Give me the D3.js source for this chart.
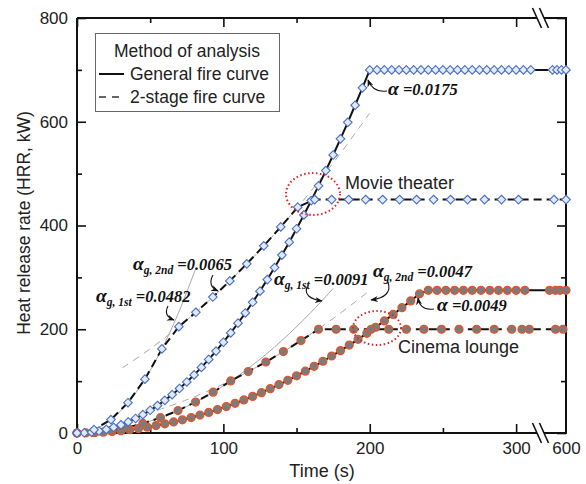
<!DOCTYPE html>
<html>
<head>
<meta charset="utf-8">
<script src="https://cdn.jsdelivr.net/npm/d3@7"></script>
<style>
  html, body { margin: 0; padding: 0; background: #fff; }
  svg { display: block; }
  .tick text { font-family: "Liberation Sans", Arial, sans-serif; font-size: 17px; fill: #222; }
  .tick line { stroke: #111; stroke-width: 1.6; }
</style>
</head>
<body>
<svg id="chart" width="586" height="484"></svg>
<script>
// Heat release rate of fires in a movie theater and a cinema lounge:
// general t-squared fire curve vs. 2-stage fire curve.

// Movie theater, general fire curve (alpha = 0.0175)
const movieGenT = [0,5,10,15,20,25,30,35,40,45,50,55,60,65,70,75,80,85,90,95,100,
  105,110,115,120,125,130,135,140,145,150,155,160,165,170,175,180,185,190,195,200,
  205,210,215,220,225,230,235,240,245,250,255,260,265,270,275,280,285,290,295,300,305,310,
  591,594,597,600];
const movieGenQ = [0,0.4,1.8,3.9,7,10.9,15.8,21.4,28,35.4,43.8,52.9,63,73.9,85.8,98.4,112,126.4,141.8,157.9,175,
  192.9,211.8,231.4,252,273.4,295.8,318.9,343,367.9,393.8,420.4,448,476.4,505.8,535.9,567,598.9,631.8,665.4,700,
  700,700,700,700,700,700,700,700,700,700,700,700,700,700,700,700,700,700,700,700,700,700,
  700,700,700,700];

// Movie theater, 2-stage fire curve
const movie2T = [0,11.6,23.2,34.8,46.4,58,69.6,81.2,92.8,104.4,116,127.6,139.2,150.8,
  162.4,174,185.6,197.2,208.8,220.4,232,243.6,255.2,266.8,278.4,290,301.6,592,600];
const movie2Q = [0,6.5,25.9,58.4,103.8,162.1,205,232.7,262.1,293.2,326.1,360.8,397.2,435.4,
  450,450,450,450,450,450,450,450,450,450,450,450,450,450,450];

// Cinema lounge, general fire curve (alpha = 0.0049)
const cinemaGenT = [0,6,12,18,24,30,36,42,48,54,60,66,72,78,84,90,96,102,108,114,120,
  126,132,138,144,150,156,162,168,174,180,186,192,198,204,210,216,222,228,234,
  240,246,252,258,264,270,276,282,288,294,300,306,589,593,596,600];
const cinemaGenQ = [0,0.2,0.7,1.6,2.8,4.4,6.4,8.6,11.3,14.3,17.6,21.3,25.4,29.8,34.6,39.7,45.2,51,57.2,63.7,70.6,
  77.8,85.4,93.3,101.6,110.3,119.2,128.6,138.3,148.4,158.8,169.5,180.6,192.1,203.9,216.1,228.6,241.5,254.7,268.3,
  275,275,275,275,275,275,275,275,275,275,275,275,275,275,275,275];

// Cinema lounge, 2-stage fire curve
const cinema2T = [0,11,23,34,45,57,69,81,93,105,117,129,141,153,
  165,177,189,201,213,225,237,249,261,273,285,297,304,309,593,598];
const cinema2Q = [0,1.1,4.8,10.5,18.4,29.6,43.3,59.7,78.7,100.3,118.4,136.9,156.9,178.2,
  200,200,200,200,200,200,200,200,200,200,200,200,200,200,200,200];

// Thin grey extensions of each growth stage
const movie1stT = [0,10,20,30,40,50,60,70,81];
const movie1stQ = [0,4.8,19.3,43.4,77.1,120.5,173.5,236.2,316.2];
const movie2ndT = [31,45,60,75,90,105,120,135,150,165,180,200];
const movie2ndQ = [125.6,152.2,183.5,217.7,254.8,294.9,337.9,383.8,432.7,484.4,539.1,616.6];
const cinema1stT = [0,20,40,60,80,100,120,140,160,175];
const cinema1stQ = [0,3.6,14.6,32.8,58.2,91,131,178.4,233,278.7];
const cinema2ndT = [55,75,95,115,135,155,175,200];
const cinema2ndQ = [43.9,64,87.8,115.4,146.7,181.8,220.7,274.6];

// Axis ticks
const xMajorTicks = [0,100,200,300];
const xMinorTicks = [50,150,250];
const xEndTick = 600;
const yMajorTicks = [0,200,400,600,800];
const yMinorTicks = [100,300,500,700];

const svg = d3.select("#chart");

// Broken time axis: 0–317 s, gap, then 588–600 s
const x = d3.scaleLinear().domain([0,317,588,600]).range([77,541,548,566]);
const y = d3.scaleLinear().domain([0,800]).range([433,18]);

const x0 = x(0), x1 = x(600), y0 = y(0), y1 = y(800);
const breakX = 540.5;

const zip = (t, q) => t.map((d, i) => [d, q[i]]);
const line = d3.line().x(d => x(d[0])).y(d => y(d[1]));
const smooth = d3.line().x(d => x(d[0])).y(d => y(d[1])).curve(d3.curveCatmullRom);

// ---- axes (ticks only, frame drawn separately) ----
function styleAxis(g) { g.select(".domain").remove(); }

svg.append("g").attr("transform", `translate(0,${y0})`)
  .call(d3.axisBottom(x).tickValues(xMajorTicks.concat([xEndTick])).tickSizeInner(-9).tickSizeOuter(0).tickPadding(9).tickFormat(d3.format("d")))
  .call(styleAxis)
  .call(g => g.selectAll(".tick").filter(d => d === xEndTick).select("line").remove());
svg.append("g").attr("transform", `translate(0,${y0})`)
  .call(d3.axisBottom(x).tickValues(xMinorTicks).tickSizeInner(-5).tickSizeOuter(0).tickFormat(""))
  .call(styleAxis);
svg.append("g").attr("transform", `translate(0,${y1})`)
  .call(d3.axisTop(x).tickValues(xMajorTicks).tickSizeInner(-9).tickSizeOuter(0).tickFormat(""))
  .call(styleAxis);
svg.append("g").attr("transform", `translate(0,${y1})`)
  .call(d3.axisTop(x).tickValues(xMinorTicks).tickSizeInner(-5).tickSizeOuter(0).tickFormat(""))
  .call(styleAxis);

svg.append("g").attr("transform", `translate(${x0},0)`)
  .call(d3.axisLeft(y).tickValues(yMajorTicks).tickSizeInner(-9).tickSizeOuter(0).tickPadding(9).tickFormat(d3.format("d")))
  .call(styleAxis);
svg.append("g").attr("transform", `translate(${x0},0)`)
  .call(d3.axisLeft(y).tickValues(yMinorTicks).tickSizeInner(-5).tickSizeOuter(0).tickFormat(""))
  .call(styleAxis);
svg.append("g").attr("transform", `translate(${x1},0)`)
  .call(d3.axisRight(y).tickValues(yMajorTicks).tickSizeInner(-9).tickSizeOuter(0).tickFormat(""))
  .call(styleAxis);
svg.append("g").attr("transform", `translate(${x1},0)`)
  .call(d3.axisRight(y).tickValues(yMinorTicks).tickSizeInner(-5).tickSizeOuter(0).tickFormat(""))
  .call(styleAxis);

// ---- frame ----
const frame = svg.append("g").attr("stroke", "#111").attr("stroke-width", 2).attr("fill", "none");
frame.append("path").attr("d", `M${x0},${y1}V${y0}H${x1}V${y1}H${x0}`);

// axis break marks on top and bottom
[y0, y1].forEach(yy => {
  const dx = 4.5, h = 10, gap = 7;
  svg.append("path")
    .attr("d", `M${breakX - gap/2 - dx},${yy - h}L${breakX - gap/2 + dx},${yy + h}L${breakX + gap/2 + dx},${yy + h}L${breakX + gap/2 - dx},${yy - h}Z`)
    .attr("fill", "#fff");
  [-gap/2, gap/2].forEach(o => {
    svg.append("line")
      .attr("x1", breakX + o - dx).attr("y1", yy - h)
      .attr("x2", breakX + o + dx).attr("y2", yy + h)
      .attr("stroke", "#111").attr("stroke-width", 1.6);
  });
});

// ---- axis titles ----
const sans = "'Liberation Sans', Arial, sans-serif";
svg.append("text").attr("x", 322).attr("y", 477)
  .attr("text-anchor", "middle")
  .style("font-family", sans).style("font-size", "18px").attr("fill", "#222")
  .text("Time (s)");
svg.append("text").attr("transform", "translate(30,223) rotate(-90)")
  .attr("text-anchor", "middle")
  .style("font-family", sans).style("font-size", "17.5px").attr("fill", "#222")
  .text("Heat release rate (HRR, kW)");

// ---- grey stage extensions ----
const grey = svg.append("g").attr("fill", "none").attr("stroke", "#a8a8a8").attr("stroke-width", 1);
grey.append("path").attr("d", smooth(zip(movie1stT, movie1stQ)));
grey.append("path").attr("d", smooth(zip(cinema1stT, cinema1stQ)));
grey.append("path").attr("d", smooth(zip(movie2ndT, movie2ndQ))).attr("stroke-dasharray", "7,6");
grey.append("path").attr("d", smooth(zip(cinema2ndT, cinema2ndQ))).attr("stroke-dasharray", "7,6");

// ---- fire curves ----
const curves = svg.append("g").attr("fill", "none").attr("stroke", "#111").attr("stroke-width", 2);
curves.append("path").attr("d", line(zip(movieGenT, movieGenQ)));
curves.append("path").attr("d", line(zip(cinemaGenT, cinemaGenQ)));
curves.append("path").attr("d", line(zip(movie2T, movie2Q))).attr("stroke-dasharray", "8,5");
curves.append("path").attr("d", line(zip(cinema2T, cinema2Q))).attr("stroke-dasharray", "8,5");

// ---- markers ----
const diamond = "M0,-4.3L4.3,0L0,4.3L-4.3,0Z";
function diamonds(t, q) {
  svg.append("g").selectAll("path").data(zip(t, q)).join("path")
    .attr("d", diamond)
    .attr("transform", d => `translate(${x(d[0])},${y(d[1])})`)
    .attr("fill", "#e2eaf7").attr("stroke", "#4a70c0").attr("stroke-width", 1.1);
}
function circles(t, q) {
  svg.append("g").selectAll("circle").data(zip(t, q)).join("circle")
    .attr("cx", d => x(d[0])).attr("cy", d => y(d[1])).attr("r", 3.9)
    .attr("fill", "#7b7b7b").attr("stroke", "#e2552c").attr("stroke-width", 1.4);
}
circles(cinemaGenT, cinemaGenQ);
circles(cinema2T, cinema2Q);
diamonds(movieGenT, movieGenQ);
diamonds(movie2T, movie2Q);

// ---- dotted highlight ellipses ----
svg.append("ellipse").attr("cx", 313).attr("cy", 194).attr("rx", 27).attr("ry", 21)
  .attr("fill", "none").attr("stroke", "#d8262a").attr("stroke-width", 2).attr("stroke-dasharray", "1.5,2.5");
svg.append("ellipse").attr("cx", 377).attr("cy", 328).attr("rx", 24).attr("ry", 17)
  .attr("fill", "none").attr("stroke", "#d8262a").attr("stroke-width", 2).attr("stroke-dasharray", "1.5,2.5");

// ---- case labels ----
svg.append("text").attr("x", 345).attr("y", 189).style("font-family", sans).style("font-size", "18px").attr("fill", "#222").text("Movie theater");
svg.append("text").attr("x", 398).attr("y", 353).style("font-family", sans).style("font-size", "18px").attr("fill", "#222").text("Cinema lounge");

// ---- growth-coefficient annotations ----
svg.append("defs").append("marker")
  .attr("id", "arrowhead").attr("viewBox", "0 0 10 10").attr("refX", 9).attr("refY", 5)
  .attr("markerWidth", 7).attr("markerHeight", 7).attr("orient", "auto")
  .append("path").attr("d", "M0,1L10,5L0,9L3,5Z").attr("fill", "#111");

const serif = "'Liberation Serif', 'Times New Roman', serif";
function annotation(px, py, sub, value) {
  const t = svg.append("text").attr("x", px).attr("y", py)
    .style("font-family", serif).style("font-style", "italic").style("font-weight", "bold")
    .style("font-size", "16.5px").attr("fill", "#111");
  t.append("tspan").style("font-size", "19.5px").text("α");
  if (sub) {
    t.append("tspan").style("font-size", "11.5px").attr("dy", 4).text(sub);
    t.append("tspan").attr("dy", -4).text(" =" + value);
  } else {
    t.append("tspan").text(" =" + value);
  }
}
annotation(388, 95, null, "0.0175");
annotation(133, 270, "g, 2nd", "0.0065");
annotation(96, 302, "g, 1st", "0.0482");
annotation(274, 285, "g, 1st", "0.0091");
annotation(373, 277, "g, 2nd", "0.0047");
annotation(437, 311, null, "0.0049");

const arrows = [
  "M387,91 Q373,93 368,80",
  "M213,275 Q207,286 218,291",
  "M168,306 Q163,316 174,320",
  "M307,287 Q303,298 322,301",
  "M388,282 Q393,297 371,300",
  "M434,309 Q420,311 418,298"
];
svg.append("g").selectAll("path").data(arrows).join("path")
  .attr("d", d => d).attr("fill", "none").attr("stroke", "#111").attr("stroke-width", 1.1)
  .attr("marker-end", "url(#arrowhead)");

// ---- legend ----
const lg = svg.append("g");
lg.append("rect").attr("x", 95.5).attr("y", 33.5).attr("width", 184).attr("height", 78)
  .attr("fill", "#fff").attr("stroke", "#666").attr("stroke-width", 1);
lg.append("text").attr("x", 187).attr("y", 57).attr("text-anchor", "middle")
  .style("font-family", sans).style("font-size", "17.5px").attr("fill", "#222").text("Method of analysis");
lg.append("line").attr("x1", 99).attr("x2", 124).attr("y1", 74).attr("y2", 74)
  .attr("stroke", "#111").attr("stroke-width", 2);
lg.append("text").attr("x", 130).attr("y", 80)
  .style("font-family", sans).style("font-size", "17.5px").attr("fill", "#222").text("General fire curve");
lg.append("line").attr("x1", 99).attr("x2", 124).attr("y1", 97).attr("y2", 97)
  .attr("stroke", "#333").attr("stroke-width", 1.6).attr("stroke-dasharray", "7,6");
lg.append("text").attr("x", 130).attr("y", 103)
  .style("font-family", sans).style("font-size", "17.5px").attr("fill", "#222").text("2-stage fire curve");
</script>
</body>
</html>
